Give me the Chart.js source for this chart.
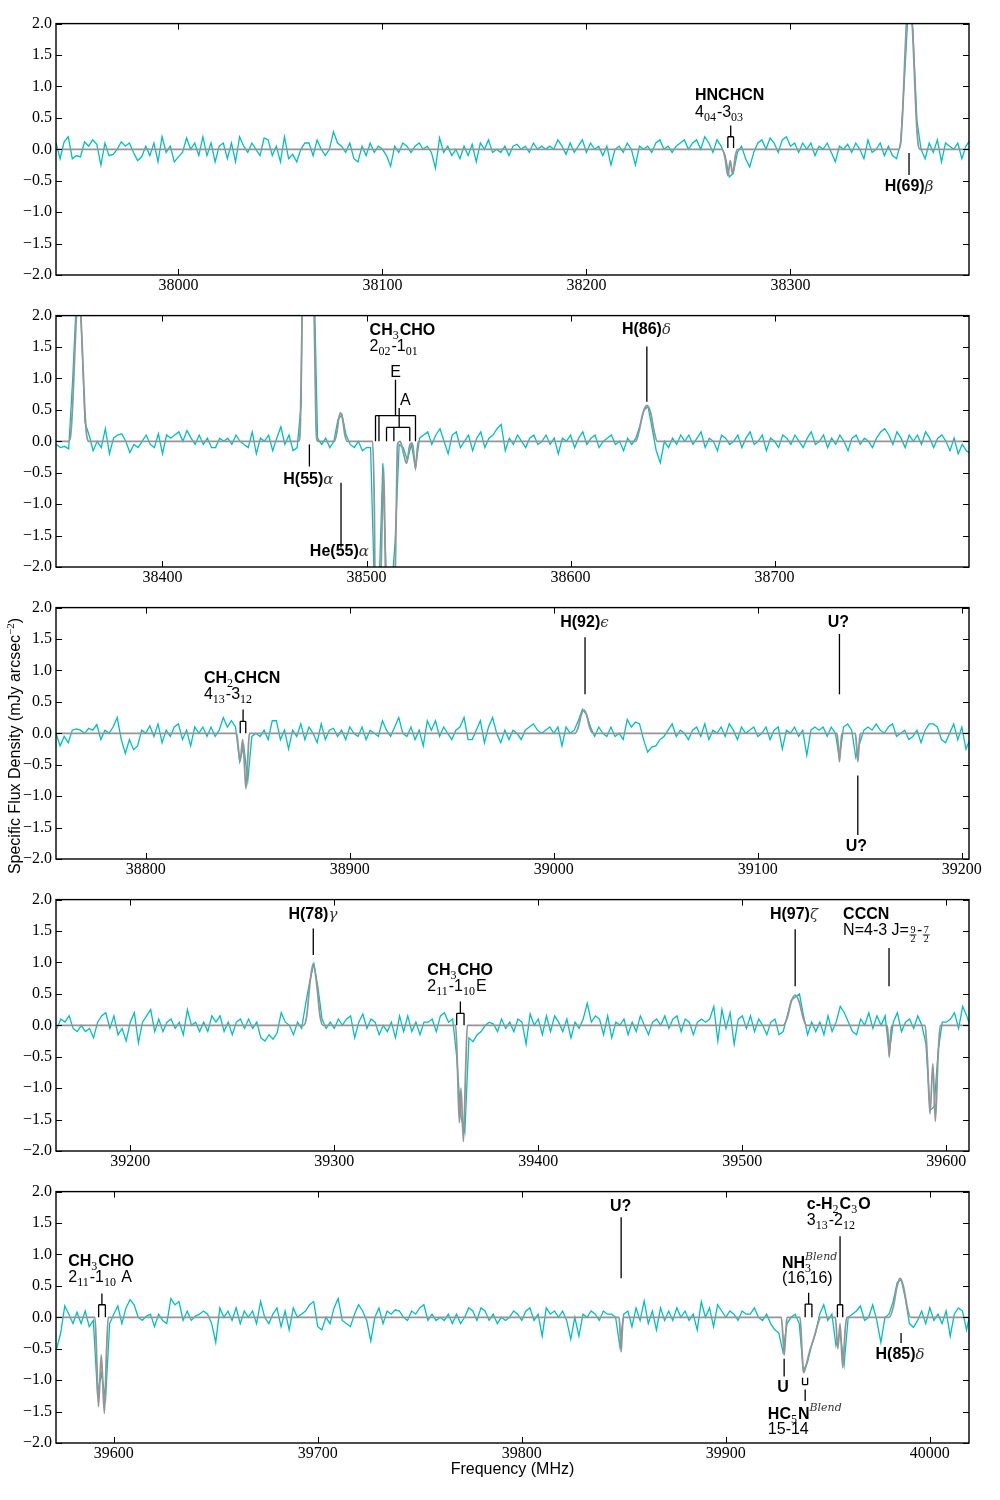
<!DOCTYPE html>
<html><head><meta charset="utf-8">
<script src="https://cdn.jsdelivr.net/npm/chart.js@4.4.1/dist/chart.umd.min.js"></script>
<style>
html,body{margin:0;padding:0;background:#fff;}
#wrap{position:relative;width:1000px;height:1500px;background:#fff;overflow:hidden;}
canvas{position:absolute;left:0;}
#ylab{position:absolute;font:16px "Liberation Sans",Arial,sans-serif;white-space:nowrap;width:400px;text-align:center;height:20px;line-height:20px;left:-190px;top:736px;transform:rotate(-90deg);transform-origin:50% 50%;color:#000;}
#ylab sup{font-size:11px;font-family:"Liberation Serif",serif;}
#xlab{position:absolute;font:16px "Liberation Sans",Arial,sans-serif;left:0;width:1025px;text-align:center;top:1460px;line-height:18px;color:#000;}
</style></head><body>
<div id="wrap">
<canvas id="c1" width="1000" height="293" style="top:10px"></canvas>
<canvas id="c2" width="1000" height="293" style="top:302px"></canvas>
<canvas id="c3" width="1000" height="293" style="top:594px"></canvas>
<canvas id="c4" width="1000" height="293" style="top:886px"></canvas>
<canvas id="c5" width="1000" height="293" style="top:1178px"></canvas>
<div id="ylab">Specific Flux Density (mJy arcsec<sup>−2</sup>)</div>
<div id="xlab">Frequency (MHz)</div>
</div>
<script>
// ---------------- DATA ----------------
const yTicks = [-2, -1.5, -1, -0.5, 0, 0.5, 1, 1.5, 2];

// Panel 1
const p1Range = [37940, 38387.5];
const p1Ticks = [38000, 38100, 38200, 38300];
const p1Start = 37940, p1Step = 2;
const p1Flux = [
 0.10,-0.15,0.12,0.20,-0.15,-0.10,-0.12,0.12,0.05,0.15,
 0.08,-0.25,0.10,-0.10,-0.08,0.00,0.12,0.05,0.10,-0.05,
 -0.18,-0.12,0.05,-0.10,0.10,-0.20,0.20,-0.05,0.05,-0.20,
 -0.12,-0.05,0.18,0.00,0.10,-0.10,0.20,-0.10,0.10,-0.20,
 0.05,0.10,-0.15,0.10,-0.20,0.20,0.05,-0.05,0.10,0.00,
 -0.10,0.18,0.15,-0.10,0.05,-0.20,0.20,-0.15,-0.08,-0.20,
 0.00,0.10,0.10,-0.10,0.15,0.00,-0.10,0.00,0.28,0.10,
 0.05,-0.05,0.10,-0.15,-0.20,0.05,-0.10,0.10,-0.05,0.05,
 0.00,-0.10,-0.27,0.05,-0.05,0.10,0.05,-0.05,0.05,0.10,
 0.00,0.05,-0.05,-0.30,0.18,-0.05,0.05,-0.10,0.00,-0.15,
 0.05,-0.10,0.08,-0.20,0.10,0.00,0.15,-0.05,0.00,-0.05,
 0.05,-0.10,0.05,0.08,0.00,0.05,-0.05,0.10,0.00,0.05,
 0.00,0.05,0.00,0.15,0.05,-0.08,0.10,-0.05,0.05,0.15,
 -0.05,0.10,0.00,0.05,-0.10,0.05,-0.25,0.00,0.05,-0.05,
 0.10,0.00,-0.25,0.05,0.00,0.05,-0.05,0.10,0.15,0.00,
 0.05,-0.05,0.05,0.10,0.15,0.00,0.10,0.15,0.00,0.20,
 0.10,-0.05,0.15,0.05,-0.10,-0.44,-0.38,-0.05,0.05,-0.15,
 -0.28,-0.05,0.10,0.15,0.00,0.18,0.10,-0.05,0.15,0.20,
 0.05,0.10,-0.05,0.10,0.00,0.10,-0.10,0.05,0.00,0.10,
 -0.05,-0.20,0.05,0.00,0.08,-0.05,0.10,0.00,-0.15,0.15,
 -0.05,0.00,0.10,-0.10,0.05,-0.10,-0.15,0.10,1.20,2.40,
 1.90,0.45,0.00,-0.15,0.10,-0.05,0.15,-0.20,0.10,0.05,
 0.00,0.10,-0.15,0.05,0.15];
const p1Model = [[37940,0],[38266.5,0],[38268,-0.15],[38269.3,-0.42],[38270.5,-0.18],[38271.6,-0.40],[38273,-0.1],[38274,0],
 [38353,0],[38354,0.1],[38355,0.6],[38356,1.4],[38357,2.1],[38358.3,2.4],[38359.5,2.1],[38360.5,1.4],[38361.5,0.6],[38362.5,0.1],[38363.5,0],[38388,0]];

// Panel 2
const p2Range = [38347.8, 38795.3];
const p2Ticks = [38400, 38500, 38600, 38700];
const p2Start = 38348, p2Step = 2;
const p2Flux = [
 -0.05,-0.10,-0.08,-0.12,1.00,2.40,2.00,0.30,0.10,-0.15,
 0.00,-0.10,0.20,-0.20,0.05,0.10,0.12,0.00,-0.18,-0.05,
 -0.10,0.00,0.10,-0.05,-0.10,0.12,-0.20,0.10,0.05,0.10,
 0.15,0.00,0.17,0.05,-0.05,0.10,-0.05,0.05,-0.10,-0.10,
 0.05,0.00,0.05,-0.05,0.10,0.00,-0.05,-0.10,0.15,-0.20,
 0.05,0.00,0.10,-0.15,0.05,0.23,-0.05,0.10,-0.15,-0.10,
 0.60,9.00,12.00,3.00,0.05,-0.05,0.05,-0.10,0.00,0.35,
 0.42,0.10,-0.05,-0.10,0.00,-0.15,-0.10,-0.10,-2.50,-2.50,
 -0.35,-2.50,-2.50,-1.60,-0.05,-0.10,-0.30,-0.05,-0.42,0.05,
 0.10,0.15,-0.05,0.10,0.20,0.00,-0.20,0.10,0.15,-0.10,
 0.00,0.10,-0.15,0.05,0.15,-0.10,0.05,0.10,0.20,0.27,
 -0.15,0.05,-0.05,0.10,0.00,-0.10,0.05,0.10,-0.05,0.00,
 0.10,-0.05,0.05,-0.20,0.05,0.00,0.10,-0.10,0.05,0.15,
 -0.05,0.05,0.10,-0.10,0.00,0.05,0.10,-0.05,0.00,-0.15,
 0.05,-0.05,0.05,0.25,0.50,0.55,0.20,-0.15,-0.34,0.00,
 -0.10,0.05,-0.05,0.10,0.00,0.10,-0.05,0.05,0.15,-0.10,
 0.05,0.00,-0.15,0.10,0.05,-0.05,0.00,0.10,-0.10,0.05,
 0.15,-0.05,0.00,0.10,-0.15,0.05,0.00,-0.10,0.10,0.05,
 -0.05,0.10,0.00,-0.10,0.05,0.15,-0.05,0.00,0.10,-0.10,
 0.05,-0.05,0.10,0.00,-0.15,0.05,0.10,-0.05,0.05,0.00,
 -0.10,0.05,0.15,0.20,0.10,-0.05,0.15,0.05,-0.10,0.10,
 0.00,0.10,-0.05,0.15,0.05,-0.10,0.05,0.10,0.00,-0.15,
 0.05,-0.20,-0.05,-0.15,-0.20];
const p2Model = [[38348,0],[38354,0],[38355,0.1],[38356,0.6],[38357,1.4],[38358,2.1],[38358.8,2.4],[38359.8,2.1],[38360.8,1.4],[38361.8,0.6],[38362.8,0.1],[38364,0],
 [38466.8,0],[38467.6,0.3],[38468.4,1.9],[38469.4,6],[38470.4,11],[38471.4,13],[38472.4,11],[38473.4,6],[38474.4,1.9],[38475.2,0.3],[38476,0],
 [38484.3,0],[38485.5,0.15],[38486.5,0.38],[38487.3,0.45],[38488.3,0.35],[38489.3,0.12],[38490.5,0],
 [38503,0],[38503.8,-1.0],[38504.4,-3],[38506.0,-3],[38507,-2.2],[38508.4,-0.42],[38509,-1.5],[38509.8,-3],[38513.4,-3],[38514.4,-1.5],[38515.2,-0.05],[38516.5,0],[38517.5,-0.1],[38519.6,-0.35],[38521.3,-0.05],[38522.4,-0.03],[38523.2,-0.2],[38524,-0.44],[38525.3,0],
 [38632,0],[38633.5,0.15],[38635.5,0.45],[38637.4,0.57],[38639.3,0.45],[38641,0.15],[38642.5,0],[38796,0]];

// Panel 3
const p3Range = [38756, 39203.5];
const p3Ticks = [38800, 38900, 39000, 39100, 39200];
const p3Start = 38756, p3Step = 2;
const p3Flux = [
 0.00,-0.20,-0.05,-0.15,0.05,0.07,0.05,0.00,0.08,0.05,
 0.14,-0.10,0.05,0.00,0.10,0.25,-0.10,-0.32,-0.10,-0.26,
 -0.20,0.05,0.00,0.12,-0.05,0.15,-0.15,0.05,-0.05,0.10,
 0.15,-0.10,0.05,-0.20,0.10,0.00,0.10,-0.05,0.10,-0.05,
 0.05,0.25,0.10,0.20,0.10,-0.45,-0.20,-0.75,-0.05,0.00,
 -0.05,0.05,-0.10,0.20,0.20,-0.10,0.05,-0.25,0.05,-0.05,
 0.15,-0.10,0.10,0.00,-0.15,0.15,-0.10,0.05,0.08,-0.05,
 0.05,-0.10,0.10,0.00,-0.05,0.10,-0.10,0.05,0.00,-0.05,
 0.20,0.05,-0.05,0.10,0.25,0.00,-0.05,0.10,-0.10,0.05,
 -0.20,0.20,0.05,0.20,-0.05,0.10,0.00,-0.10,0.05,0.10,
 0.25,-0.10,-0.10,0.05,0.20,-0.15,0.10,0.25,0.00,-0.15,
 0.05,-0.10,0.05,0.00,-0.10,0.05,0.10,0.15,0.05,0.00,
 0.05,0.10,0.00,0.10,-0.20,0.10,0.00,0.05,0.20,0.38,
 0.30,0.10,-0.05,0.10,0.00,-0.05,0.10,-0.05,0.00,-0.10,
 0.22,0.10,0.18,0.15,-0.10,-0.30,-0.22,-0.20,-0.10,-0.05,
 0.05,0.15,-0.05,0.05,0.00,-0.10,0.05,0.10,-0.05,0.15,
 -0.10,0.05,0.00,0.10,-0.05,0.15,0.05,-0.10,0.10,0.00,
 0.05,0.10,-0.05,0.00,0.10,-0.10,0.05,0.10,-0.25,0.05,
 0.00,0.10,-0.05,0.05,-0.35,0.05,0.10,0.05,0.10,-0.05,
 0.10,0.00,-0.40,0.10,0.15,0.05,-0.38,-0.15,0.05,0.10,
 0.05,0.15,0.05,0.00,0.10,0.15,-0.05,0.00,0.05,-0.10,
 -0.05,0.05,-0.15,0.05,0.15,0.15,0.10,-0.10,-0.15,0.00,
 0.15,-0.10,0.10,-0.25,-0.10];
const p3Model = [[38756,0],[38844.5,0],[38845.3,-0.2],[38846.2,-0.45],[38847.5,-0.1],[38848.2,-0.4],[38849.1,-0.88],[38850,-0.4],[38850.8,0],
 [39010.5,0],[39012,0.1],[39013.5,0.3],[39014.8,0.37],[39016,0.3],[39017.5,0.1],[39019,0],
 [39138.8,0],[39139.4,-0.2],[39140,-0.45],[39140.6,-0.2],[39141.2,0],
 [39147.8,0],[39148.4,-0.2],[39149,-0.45],[39149.6,-0.2],[39150.2,0],[39204,0]];

// Panel 4
const p4Range = [39163.6, 39611.1];
const p4Ticks = [39200, 39300, 39400, 39500, 39600];
const p4Start = 39164, p4Step = 2;
const p4Flux = [
 -0.05,0.10,0.05,0.15,-0.05,-0.10,0.00,-0.10,-0.05,-0.20,
 0.05,0.15,0.20,-0.05,0.15,-0.15,-0.05,-0.25,0.05,0.20,
 -0.28,0.05,0.15,0.25,-0.10,0.10,-0.10,0.05,0.10,-0.05,
 0.05,-0.15,0.25,0.00,0.05,-0.10,0.05,-0.10,0.15,0.05,
 0.15,-0.10,0.05,-0.15,0.05,0.10,-0.05,0.10,-0.05,0.05,
 -0.20,-0.25,-0.15,-0.22,-0.12,0.20,0.05,0.00,-0.15,0.05,
 -0.05,0.35,0.70,0.98,0.60,0.10,-0.05,0.05,-0.05,0.10,
 0.00,0.10,0.15,-0.20,0.05,0.18,-0.05,0.10,0.05,-0.15,
 0.00,-0.10,0.05,-0.20,0.15,-0.10,0.15,-0.10,0.05,-0.15,
 0.05,0.05,0.10,-0.10,0.15,0.20,0.05,0.10,-0.50,-1.45,
 -1.70,-0.20,-0.26,-0.15,-0.10,0.00,0.05,0.02,-0.10,0.10,
 -0.05,0.05,-0.10,0.10,0.05,-0.30,0.18,0.00,0.10,-0.15,
 0.15,-0.10,0.15,0.05,-0.10,0.10,-0.20,0.05,-0.05,0.10,
 0.35,0.05,0.15,0.10,-0.15,0.15,-0.20,0.05,0.00,0.10,
 -0.15,0.05,-0.10,0.15,0.00,-0.15,0.05,0.10,0.00,0.15,
 -0.05,0.10,0.15,-0.10,0.10,0.05,-0.15,0.05,0.10,0.05,
 0.10,0.30,-0.25,0.25,-0.05,0.20,-0.30,0.10,0.15,-0.05,
 0.15,-0.10,0.10,0.00,-0.15,0.05,0.10,-0.15,-0.10,0.15,
 0.40,0.45,0.50,0.15,-0.15,0.05,-0.10,0.05,-0.15,0.15,
 -0.10,0.05,0.30,0.20,0.05,-0.10,-0.15,0.10,0.00,0.20,
 -0.05,0.15,0.00,0.15,-0.45,0.05,0.20,-0.10,0.05,0.10,
 -0.05,0.15,0.00,-0.30,-1.35,-1.30,-0.40,0.05,0.05,0.10,
 0.20,-0.05,0.30,0.15,-0.05];
const p4Model = [[39164,0],[39285,0],[39286.5,0.15],[39288,0.65],[39289.7,0.98],[39291.4,0.65],[39293,0.15],[39294.5,0],
 [39359.5,0],[39360.3,-0.6],[39361.3,-1.55],[39362.1,-1.0],[39363.3,-1.85],[39364.3,-0.8],[39365.2,0],
 [39520,0],[39522,0.12],[39524,0.38],[39525.9,0.48],[39527.8,0.38],[39529.8,0.12],[39531.5,0],
 [39571,0],[39571.5,-0.2],[39572,-0.5],[39572.6,-0.2],[39573.2,0],
 [39589.6,0],[39590.8,-0.6],[39592,-1.41],[39593.4,-0.61],[39594.6,-1.53],[39595.8,-0.6],[39597,0],[39612,0]];

// Panel 5
const p5Range = [39571.7, 40019.2];
const p5Ticks = [39600, 39700, 39800, 39900, 40000];
const p5Start = 39572, p5Step = 2;
const p5Flux = [
 -0.50,-0.25,0.18,0.05,-0.10,0.08,-0.10,0.10,-0.15,-0.05,
 -1.20,-0.90,-1.30,-0.10,0.05,0.18,-0.10,0.15,0.28,0.20,
 0.00,-0.05,0.02,0.05,-0.15,0.05,-0.05,-0.10,0.30,0.20,
 0.25,-0.05,0.10,-0.05,0.02,0.05,0.10,0.05,-0.10,-0.40,
 0.15,0.00,0.10,-0.05,0.15,-0.10,0.10,0.00,0.10,-0.10,
 0.25,0.00,-0.10,0.05,0.15,-0.15,0.10,-0.20,0.15,0.00,
 0.05,0.10,0.20,0.25,-0.15,-0.20,0.00,-0.10,0.15,0.30,
 -0.05,-0.10,-0.15,0.05,0.20,0.10,-0.05,-0.38,0.00,0.15,
 -0.10,0.10,0.05,0.12,0.10,0.00,-0.05,0.10,0.05,0.15,
 0.20,-0.05,0.05,-0.05,0.00,-0.05,0.05,-0.10,0.05,-0.10,
 0.00,0.15,0.10,-0.05,0.15,0.10,-0.05,0.05,-0.10,0.00,
 -0.05,0.00,0.10,0.05,-0.05,0.10,0.15,-0.05,0.05,-0.30,
 0.15,0.05,0.10,0.00,0.10,-0.05,-0.35,0.00,-0.30,0.05,
 0.00,0.10,0.05,-0.05,0.10,0.05,0.05,0.00,-0.45,0.05,
 0.10,-0.15,0.15,-0.05,0.26,-0.10,0.10,-0.20,0.15,-0.05,
 0.10,-0.05,0.15,0.00,0.10,-0.05,0.05,-0.20,0.25,0.00,
 0.15,-0.15,0.20,0.10,0.00,0.10,0.05,-0.05,0.10,0.05,
 0.05,0.15,0.00,-0.05,0.05,-0.10,-0.20,-0.25,-0.55,-0.10,
 0.00,0.05,-0.10,-0.85,-0.72,-0.45,-0.25,0.05,0.20,-0.05,
 0.05,-0.45,-0.25,-0.75,0.00,0.05,0.10,0.18,-0.05,0.00,
 0.20,-0.05,-0.40,0.00,0.05,0.25,0.55,0.60,0.30,-0.10,
 -0.16,-0.05,0.10,-0.10,0.15,-0.05,0.05,-0.10,0.10,-0.30,
 0.05,0.15,0.10,-0.20,0.10];
const p5Model = [[39572,0],[39590.8,0],[39591.6,-0.6],[39592.5,-1.42],[39593.9,-0.6],[39595.4,-1.53],[39596.4,-0.6],[39597.3,0],
 [39847.7,0],[39848.2,-0.25],[39848.7,-0.55],[39849.2,-0.25],[39849.7,0],
 [39927.2,0],[39928,-0.3],[39928.6,-0.6],[39929.3,-0.3],[39930,0],
 [39936.4,0],[39937.3,-0.5],[39938.1,-0.88],[39939.5,-0.75],[39941,-0.55],[39943,-0.35],[39945,-0.12],[39946.5,0],
 [39953.7,0],[39954.9,-0.5],[39956,-0.1],[39957.3,-0.8],[39958.5,-0.2],[39959.3,0],
 [39980,0],[39982,0.15],[39984,0.5],[39985.4,0.62],[39987,0.5],[39989,0.15],[39990.5,0],[40020,0]];

// ---------------- ANNOTATIONS (in data units) ----------------
const anno1 = [
 {t:'text', x:38253.2, y:0.78, align:'left', parts:[['B','HNCHCN']]},
 {t:'text', x:38253.2, y:0.51, align:'left', parts:[['R','4'],['S','04'],['R','-3'],['S','03']]},
 {t:'bracket', legs:[38269.3,38272.1], top:0.2, bot:0.02, stem:38270.7, stemTop:0.38},
 {t:'line', x:38358.1, y1:-0.06, y2:-0.41},
 {t:'text', x:38358.1, y:-0.67, align:'center', parts:[['B','H(69)'],['G','β']]}
];
const anno2 = [
 {t:'line', x:38472.0, y1:-0.05, y2:-0.40},
 {t:'text', x:38471.5, y:-0.68, align:'center', parts:[['B','H(55)'],['G','α']]},
 {t:'line', x:38487.5, y1:-0.66, y2:-1.69},
 {t:'text', x:38486.7, y:-1.83, align:'center', parts:[['B','He(55)'],['G','α']]},
 {t:'text', x:38501.5, y:1.69, align:'left', parts:[['B','CH'],['S','3'],['B','CHO']]},
 {t:'text', x:38501.5, y:1.43, align:'left', parts:[['R','2'],['S','02'],['R','-1'],['S','01']]},
 {t:'bracket', legs:[38504.4,38506.1,38524.0], top:0.41, bot:0.0, stem:38514.2, stemTop:0.98},
 {t:'text', x:38514.2, y:1.03, align:'center', parts:[['R','E']]},
 {t:'bracket', legs:[38509.8,38513.4,38521.2], top:0.22, bot:0.0, stem:38516.0, stemTop:0.53},
 {t:'text', x:38516.4, y:0.58, align:'left', parts:[['R','A']]},
 {t:'line', x:38637.4, y1:0.63, y2:1.51},
 {t:'text', x:38637.2, y:1.70, align:'center', parts:[['B','H(86)'],['G','δ']]}
];
const anno3 = [
 {t:'text', x:38828.5, y:0.80, align:'left', parts:[['B','CH'],['S','2'],['B','CHCN']]},
 {t:'text', x:38828.5, y:0.54, align:'left', parts:[['R','4'],['S','13'],['R','-3'],['S','12']]},
 {t:'bracket', legs:[38846.3,38849.0], top:0.19, bot:0.0, stem:38847.7, stemTop:0.38},
 {t:'line', x:39015.3, y1:0.62, y2:1.53},
 {t:'text', x:39015.0, y:1.69, align:'center', parts:[['B','H(92)'],['G','ϵ']]},
 {t:'line', x:39140.0, y1:0.62, y2:1.58},
 {t:'text', x:39139.5, y:1.69, align:'center', parts:[['B','U?']]},
 {t:'line', x:39149.0, y1:-0.67, y2:-1.62},
 {t:'text', x:39148.3, y:-1.87, align:'center', parts:[['B','U?']]}
];
const anno4 = [
 {t:'line', x:39289.7, y1:1.12, y2:1.54},
 {t:'text', x:39289.5, y:1.69, align:'center', parts:[['B','H(78)'],['G','γ']]},
 {t:'text', x:39345.6, y:0.80, align:'left', parts:[['B','CH'],['S','3'],['B','CHO']]},
 {t:'text', x:39345.6, y:0.54, align:'left', parts:[['R','2'],['S','11'],['R','-1'],['S','10'],['R','E']]},
 {t:'bracket', legs:[39360.0,39363.6], top:0.19, bot:0.0, stem:39361.8, stemTop:0.38},
 {t:'line', x:39525.9, y1:0.62, y2:1.53},
 {t:'text', x:39525.3, y:1.69, align:'center', parts:[['B','H(97)'],['G','ζ']]},
 {t:'line', x:39571.9, y1:0.62, y2:1.23},
 {t:'text', x:39549.4, y:1.69, align:'left', parts:[['B','CCCN']]},
 {t:'text', x:39549.4, y:1.43, align:'left', parts:[['R','N=4-3 J='],['F',['9','2']],['R','-'],['F',['7','2']]]}
];
const anno5 = [
 {t:'text', x:39577.7, y:0.81, align:'left', parts:[['B','CH'],['S','3'],['B','CHO']]},
 {t:'text', x:39577.7, y:0.56, align:'left', parts:[['R','2'],['S','11'],['R','-1'],['S','10'],['R',' A']]},
 {t:'bracket', legs:[39592.6,39595.9], top:0.20, bot:0.0, stem:39594.2, stemTop:0.38},
 {t:'line', x:39848.7, y1:0.62, y2:1.59},
 {t:'text', x:39848.5, y:1.69, align:'center', parts:[['B','U?']]},
 {t:'line', x:39928.6, y1:-0.66, y2:-0.94},
 {t:'text', x:39928.0, y:-1.19, align:'center', parts:[['B','U']]},
 {t:'bracket', legs:[39937.6,39940.1], top:-1.07, bot:-0.96},
 {t:'line', x:39938.9, y1:-1.15, y2:-1.33},
 {t:'text', x:39920.6, y:-1.62, align:'left', parts:[['B','HC'],['S','5'],['B','N'],['P','Blend']]},
 {t:'text', x:39920.6, y:-1.86, align:'left', parts:[['R','15-14']]},
 {t:'text', x:39927.5, y:0.79, align:'left', parts:[['B','NH'],['SP',['3','Blend']]]},
 {t:'text', x:39927.5, y:0.54, align:'left', parts:[['R','(16,16)']]},
 {t:'bracket', legs:[39938.9,39942.2], top:0.21, bot:0.0, stem:39940.6, stemTop:0.39},
 {t:'text', x:39939.7, y:1.72, align:'left', parts:[['B','c-H'],['S','2'],['B','C'],['S','3'],['B','O']]},
 {t:'text', x:39939.7, y:1.47, align:'left', parts:[['R','3'],['S','13'],['R','-2'],['S','12']]},
 {t:'bracket', legs:[39954.7,39957.3], top:0.20, bot:0.0, stem:39956.0, stemTop:1.29},
 {t:'line', x:39985.9, y1:-0.25, y2:-0.41},
 {t:'text', x:39985.4, y:-0.67, align:'center', parts:[['B','H(85)'],['G','δ']]}
];

// ---------------- RENDERING ----------------
const FONTS = {
  B: 'bold 16px "Liberation Sans", Arial, sans-serif',
  R: '16px "Liberation Sans", Arial, sans-serif',
  S: '12px "Liberation Serif", serif',
  G: 'italic 15px "DejaVu Serif", serif',
  P: 'italic 11px "DejaVu Serif", serif',
  F: '10px "Liberation Serif", serif'
};
function partWidth(ctx, p) {
  const k = p[0], v = p[1];
  if (k === 'SP') {
    ctx.font = FONTS.S; const w1 = ctx.measureText(v[0]).width;
    ctx.font = FONTS.P; const w2 = ctx.measureText(v[1]).width;
    return Math.max(w1, w2) + 1;
  }
  if (k === 'F') {
    ctx.font = FONTS.F;
    return Math.max(ctx.measureText(v[0]).width, ctx.measureText(v[1]).width) + 3;
  }
  ctx.font = FONTS[k];
  return ctx.measureText(v).width + ((k === 'S' || k === 'P') ? 1 : 0);
}
function drawRich(ctx, parts, x, y, align) {
  const w = parts.reduce((s, p) => s + partWidth(ctx, p), 0);
  let cx = align === 'center' ? x - w / 2 : x;
  ctx.textAlign = 'left';
  ctx.textBaseline = 'alphabetic';
  parts.forEach(p => {
    const k = p[0], v = p[1];
    const pw = partWidth(ctx, p);
    if (k === 'SP') {
      ctx.font = FONTS.S; ctx.fillStyle = '#000'; ctx.fillText(v[0], cx, y + 4);
      ctx.font = FONTS.P; ctx.fillStyle = '#333'; ctx.fillText(v[1], cx, y - 8);
    } else if (k === 'F') {
      ctx.font = FONTS.F; ctx.fillStyle = '#000';
      const mid = cx + pw / 2;
      ctx.textAlign = 'center';
      ctx.fillText(v[0], mid, y - 2);
      ctx.fillText(v[1], mid, y + 7);
      ctx.textAlign = 'left';
      ctx.lineWidth = 0.8; ctx.strokeStyle = '#000';
      ctx.beginPath(); ctx.moveTo(cx + 0.5, y - 0.5); ctx.lineTo(cx + pw - 0.5, y - 0.5); ctx.stroke();
    } else {
      ctx.font = FONTS[k];
      ctx.fillStyle = (k === 'G' || k === 'P') ? '#333' : '#000';
      const dy = k === 'S' ? 4 : (k === 'P' ? -8 : 0);
      ctx.fillText(v, cx, y + dy);
    }
    cx += pw;
  });
}

const framePlugin = {
  id: 'specFrame',
  afterDatasetsDraw(chart) {
    const ctx = chart.ctx, a = chart.chartArea, xs = chart.scales.x, ys = chart.scales.y;
    const X = v => xs.getPixelForValue(v), Y = v => ys.getPixelForValue(v);
    ctx.save();
    // inward tick marks on all four sides
    ctx.strokeStyle = '#000'; ctx.lineWidth = 1;
    const L = 6;
    ctx.beginPath();
    xs.ticks.forEach(t => {
      const px = Math.round(X(t.value)) + 0.5;
      ctx.moveTo(px, a.top); ctx.lineTo(px, a.top + L);
      ctx.moveTo(px, a.bottom); ctx.lineTo(px, a.bottom - L);
    });
    ys.ticks.forEach(t => {
      const py = Math.round(Y(t.value)) + 0.5;
      ctx.moveTo(a.left, py); ctx.lineTo(a.left + L, py);
      ctx.moveTo(a.right, py); ctx.lineTo(a.right - L, py);
    });
    ctx.stroke();
    // frame
    ctx.lineWidth = 1.4;
    ctx.strokeRect(a.left, a.top, a.right - a.left, a.bottom - a.top);
    // annotations
    const items = chart.options.plugins.specFrame.items || [];
    ctx.lineWidth = 1.3; ctx.strokeStyle = '#000';
    items.forEach(it => {
      if (it.t === 'line') {
        ctx.beginPath(); ctx.moveTo(X(it.x), Y(it.y1)); ctx.lineTo(X(it.x), Y(it.y2)); ctx.stroke();
      } else if (it.t === 'bracket') {
        const yt = Y(it.top), yb = Y(it.bot), px = it.legs.map(X);
        ctx.lineWidth = 1.3; ctx.strokeStyle = '#000';
        ctx.beginPath();
        ctx.moveTo(Math.min(...px), yt); ctx.lineTo(Math.max(...px), yt);
        px.forEach(q => { ctx.moveTo(q, yt); ctx.lineTo(q, yb); });
        if (it.stem !== undefined) { ctx.moveTo(X(it.stem), yt); ctx.lineTo(X(it.stem), Y(it.stemTop)); }
        ctx.stroke();
      } else if (it.t === 'text') {
        drawRich(ctx, it.parts, X(it.x), Y(it.y), it.align);
        ctx.lineWidth = 1.3; ctx.strokeStyle = '#000';
      }
    });
    ctx.restore();
  }
};

function fmtY(v) {
  const s = (Math.abs(v) < 1e-9 ? 0 : v).toFixed(1);
  return s.replace('-', '\u2212');
}

function makePanel(id, start, step, flux, model, range, ticks, anno) {
  const cyan = flux.map((v, i) => ({x: start + i * step, y: v}));
  const gray = model.map(p => ({x: p[0], y: p[1]}));
  const tickFont = {family: '"Liberation Serif", "Times New Roman", serif', size: 16};
  new Chart(document.getElementById(id), {
    type: 'line',
    data: {datasets: [
      {data: gray, borderColor: '#959595', borderWidth: 1.8, pointRadius: 0, cubicInterpolationMode: 'monotone', fill: false},
      {data: cyan, borderColor: '#00BFBF', borderWidth: 1.3, pointRadius: 0, tension: 0, fill: false}
    ]},
    options: {
      responsive: false, animation: false, events: [],
      layout: {padding: {top: 12, right: 31, left: 0, bottom: 0}},
      plugins: {legend: {display: false}, tooltip: {enabled: false}, specFrame: {items: anno}},
      scales: {
        x: {type: 'linear', min: range[0], max: range[1],
            afterBuildTicks: s => { s.ticks = ticks.map(v => ({value: v})); },
            afterFit: s => { s.height = 28; },
            grid: {display: false, drawTicks: false}, border: {display: false},
            ticks: {font: tickFont, color: '#000', padding: 1, maxRotation: 0, autoSkip: false, callback: v => String(v)}},
        y: {type: 'linear', min: -2, max: 2,
            afterBuildTicks: s => { s.ticks = yTicks.map(v => ({value: v})); },
            afterFit: s => { s.width = 56; },
            grid: {display: false, drawTicks: false}, border: {display: false},
            ticks: {font: tickFont, color: '#000', padding: 4, autoSkip: false, callback: v => fmtY(v)}}
      }
    },
    plugins: [framePlugin]
  });
}

makePanel('c1', p1Start, p1Step, p1Flux, p1Model, p1Range, p1Ticks, anno1);
makePanel('c2', p2Start, p2Step, p2Flux, p2Model, p2Range, p2Ticks, anno2);
makePanel('c3', p3Start, p3Step, p3Flux, p3Model, p3Range, p3Ticks, anno3);
makePanel('c4', p4Start, p4Step, p4Flux, p4Model, p4Range, p4Ticks, anno4);
makePanel('c5', p5Start, p5Step, p5Flux, p5Model, p5Range, p5Ticks, anno5);
</script>
</body></html>
